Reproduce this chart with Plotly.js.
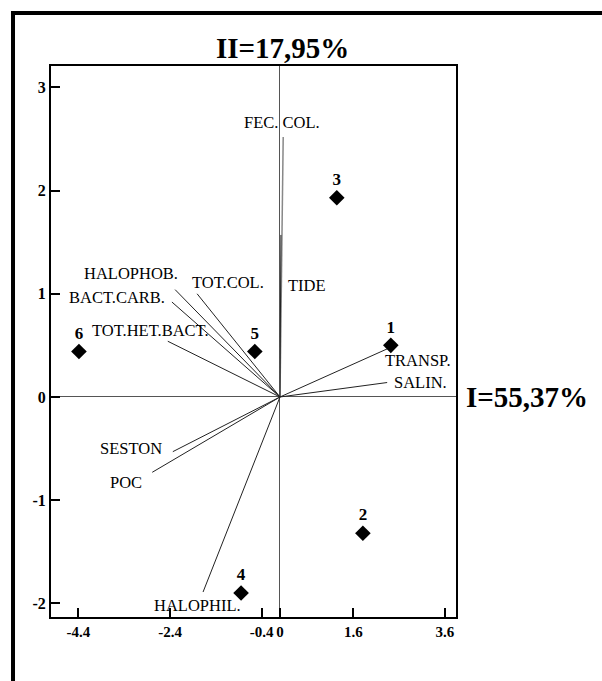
<!DOCTYPE html>
<html>
<head>
<meta charset="utf-8">
<script src="https://cdn.plot.ly/plotly-3.0.1.min.js"></script>
<style>html,body{margin:0;padding:0;background:#fff;}#chart{width:602px;height:681px;}</style>
</head>
<body>
<div id="chart"></div>
<script>
// Sample scores (PCA axes I and II)
var sampleNames = ['1', '2', '3', '4', '5', '6'];
var sampleX = [2.42, 1.81, 1.24, -0.85, -0.55, -4.39];
var sampleY = [0.50, -1.32, 1.93, -1.90, 0.44, 0.44];

// Variable loadings (vectors from origin)
var varNames = ['FEC. COL.', 'TIDE', 'HALOPHOB.', 'TOT.COL.', 'BACT.CARB.', 'TOT.HET.BACT.', 'SESTON', 'POC', 'HALOPHIL.', 'TRANSP.', 'SALIN.'];
var varX = [0.07, 0.02, -2.29, -1.81, -2.36, -2.45, -2.34, -2.79, -1.68, 2.36, 2.34];
var varY = [2.52, 1.57, 1.04, 1.00, 0.92, 0.54, -0.53, -0.73, -1.89, 0.47, 0.14];

// Axis ticks
var xTicks = [-4.4, -2.4, -0.4, 0, 1.6, 3.6];
var xTickText = ['-4.4', '-2.4', '-0.4', '0', '1.6', '3.6'];
var yTicks = [-2, -1, 0, 1, 2, 3];
var yTickText = ['-2', '-1', '0', '1', '2', '3'];

// Axis titles
var axisITitle = 'I=55,37%';
var axisIITitle = 'II=17,95%';

// label offsets (pixels) for variable names, in same order as varNames
var labelShift = [[-1, 14], [26, -51], [-44, 16], [31, 11], [-55, 5], [-17, 11], [-42, 3], [-26, -10], [-6, -13], [30, -12], [33, 0]];

var serif = 'Liberation Serif, Times New Roman, serif';

var vx = [], vy = [];
var fecVx = [], fecVy = [];
for (var i = 0; i < varNames.length; i++) {
  if (i === 0) { fecVx.push(0, varX[i]); fecVy.push(0, varY[i]); continue; }
  vx.push(0, varX[i], null);
  vy.push(0, varY[i], null);
}

var traces = [
  {x: fecVx, y: fecVy, mode: 'lines', type: 'scatter', line: {color: '#888', width: 1.5}, hoverinfo: 'skip', showlegend: false},
  {x: vx, y: vy, mode: 'lines', type: 'scatter', line: {color: '#222', width: 1}, hoverinfo: 'skip', showlegend: false},
  {x: sampleX, y: sampleY, text: sampleNames, mode: 'markers+text', type: 'scatter', textposition: 'top center',
   marker: {symbol: 'diamond', size: 12, color: '#000'},
   textfont: {family: serif, size: 17, color: '#000', weight: 'bold'}, showlegend: false, cliponaxis: false}
];

var annotations = [];
for (var j = 0; j < varNames.length; j++) {
  annotations.push({x: varX[j], y: varY[j], xref: 'x', yref: 'y', text: varNames[j], showarrow: false,
    xanchor: 'center', yanchor: 'middle', xshift: labelShift[j][0], yshift: labelShift[j][1],
    font: {family: serif, size: 16.5, color: '#000'}});
}
annotations.push({x: 1.02, y: 0, xref: 'paper', yref: 'y', text: axisITitle, showarrow: false, xanchor: 'left', yanchor: 'middle',
  font: {family: serif, size: 29, color: '#000', weight: 'bold'}});
annotations.push({x: 0.05, y: 1, xref: 'x', yref: 'paper', text: axisIITitle, showarrow: false, xanchor: 'center', yanchor: 'bottom', yshift: 0,
  font: {family: serif, size: 29, color: '#000', weight: 'bold'}});

var layout = {
  width: 602, height: 681,
  margin: {l: 51, r: 146, t: 66, b: 64},
  paper_bgcolor: '#fff', plot_bgcolor: '#fff',
  showlegend: false,
  xaxis: {range: [-5.0, 3.843], tickvals: xTicks, ticktext: xTickText, tickangle: 0, ticks: 'inside', ticklen: 9, tickwidth: 2, tickcolor: '#000',
    showgrid: false, zeroline: true, zerolinecolor: '#555', zerolinewidth: 1,
    showline: true, linecolor: '#000', linewidth: 2, mirror: true,
    tickfont: {family: serif, size: 15, color: '#000', weight: 'bold'}},
  yaxis: {range: [-2.132, 3.207], tickvals: yTicks, ticktext: yTickText, ticks: 'inside', ticklen: 9, tickwidth: 2, tickcolor: '#000',
    showgrid: false, zeroline: true, zerolinecolor: '#555', zerolinewidth: 1,
    showline: true, linecolor: '#000', linewidth: 2, mirror: true,
    tickfont: {family: serif, size: 16, color: '#000', weight: 'bold'}},
  annotations: annotations,
  shapes: [
    {type: 'line', xref: 'paper', yref: 'paper', x0: -0.0938, x1: -0.0938, y0: 1.1, y1: -0.2, line: {color: '#000', width: 4}},
    {type: 'line', xref: 'paper', yref: 'paper', x0: -0.0988, x1: 1.5, y0: 1.0962, y1: 1.0962, line: {color: '#000', width: 4}}
  ]
};

Plotly.newPlot('chart', traces, layout, {displayModeBar: false, staticPlot: true});
</script>
</body>
</html>
